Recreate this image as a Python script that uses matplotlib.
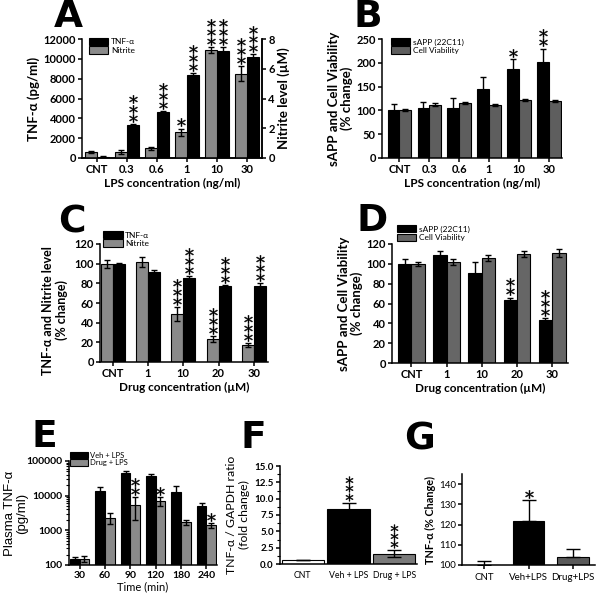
import numpy as np
import matplotlib
matplotlib.use('Agg')
import matplotlib.pyplot as plt
from matplotlib.transforms import ScaledTranslation
from matplotlib.patches import Patch
from matplotlib.ticker import FuncFormatter, AutoMinorLocator, LogLocator, NullFormatter, FixedLocator

plt.rcParams['font.family'] = ['Lato', 'DejaVu Sans']
plt.rcParams['axes.linewidth'] = 1.1

# ---------------- data ----------------
lps_labels = ['CNT', '0.3', '0.6', '1', '10', '30']
a_tnf = [150, 3350, 4600, 8350, 10800, 10150]
a_tnf_err = [40, 100, 150, 200, 380, 350]
a_nitrite = [0.40, 0.43, 0.65, 1.73, 7.23, 5.67]
a_nitrite_err = [0.08, 0.13, 0.08, 0.25, 0.2, 0.5]
a_stars_tnf = [0, 3, 3, 3, 3, 3]
a_stars_nit = [0, 0, 0, 1, 3, 3]

b_sapp = [100, 105, 105, 146, 188, 202]
b_sapp_err = [13, 12, 22, 25, 19, 28]
b_via = [100, 112, 115, 112, 122, 120]
b_via_err = [2, 3, 2, 2, 2, 2]
b_stars_sapp = [0, 0, 0, 0, 1, 2]

drug_labels = ['CNT', '1', '10', '20', '30']
c_nit = [100, 102, 49, 23, 17]
c_nit_err = [4, 5, 7, 3, 2]
c_tnf = [100, 92, 85, 77, 77]
c_tnf_err = [1, 1.5, 2, 1, 3]
c_stars_nit = [0, 0, 3, 3, 3]
c_stars_tnf = [0, 0, 3, 3, 3]

d_sapp = [100, 109, 91, 64, 43]
d_sapp_err = [5, 4, 11, 2, 2]
d_via = [100, 102, 106, 110, 111]
d_via_err = [2, 3, 3, 3, 4]
d_stars_sapp = [0, 0, 0, 2, 3]

e_times = ['30', '60', '90', '120', '180', '240']
e_veh = [145, 13500, 45000, 37000, 12500, 4900]
e_veh_err = [25, 4000, 6000, 6000, 7000, 1400]
e_drug = [150, 2300, 5500, 7000, 1700, 1400]
e_drug_err = [30, 800, 3500, 2000, 300, 200]
e_stars_drug = [0, 0, 2, 1, 0, 1]

f_labels = ['CNT', 'Veh + LPS', 'Drug + LPS']
f_vals = [0.6, 8.4, 1.6]
f_err = [0.05, 1.0, 0.5]
f_stars = [0, 3, 3]

g_labels = ['CNT', 'Veh+LPS', 'Drug+LPS']
g_vals = [100, 122, 104]
g_err = [2, 10, 3.7]
g_stars = [0, 1, 0]

# ---------------- helpers ----------------
W, H = 600, 596
fig = plt.figure(figsize=(6, 5.96), dpi=100)


def px_axes(l, t, r, b):
    return fig.add_axes([l / W, 1 - b / H, (r - l) / W, (b - t) / H])


def style(ax, fs=8, bold=True, right=False):
    ax.spines['top'].set_visible(False)
    ax.spines['right'].set_visible(right)
    ax.tick_params(direction='out', length=3, width=1.1, labelsize=fs, pad=1.5)
    for lab in ax.get_xticklabels() + ax.get_yticklabels():
        lab.set_fontweight('bold' if bold else 'normal')


def stars(ax, x, top, n, size=6, gap=1.5, step=6.5):
    for i in range(n):
        tr = ax.transData + ScaledTranslation(0, (gap + size / 2 + i * step) / 72, fig.dpi_scale_trans)
        ax.plot([x], [top], marker='$*$', ms=size, color='k', transform=tr,
                clip_on=False, linestyle='none', markeredgewidth=0.3)


def legend(ax, colors, labels, anchor, fs=6):
    handles = [Patch(facecolor=c, edgecolor='k', linewidth=0.8) for c in colors]
    ax.legend(handles, labels, loc='upper left', bbox_to_anchor=anchor, frameon=False,
              fontsize=fs, handlelength=2.3, handleheight=1.0, labelspacing=0.1,
              handletextpad=0.3, borderpad=0, borderaxespad=0)


def letter(x, y, s):
    fig.text(x / W, 1 - y / H, s, fontsize=27, fontweight='bold', ha='center', va='center',
             family='DejaVu Sans')


ekw = dict(ecolor='k', elinewidth=1.0, capsize=2.2, capthick=1.0)

# ---------------- Panel A ----------------
ax = px_axes(82, 39, 262, 158)
ax2 = ax.twinx()
x = np.arange(len(lps_labels))
w = 0.39
ax2.bar(x - w / 2, a_nitrite, w, yerr=a_nitrite_err, color='#8a8a8a', edgecolor='k', linewidth=0.8, error_kw=ekw)
ax.bar(x + w / 2, a_tnf, w, yerr=a_tnf_err, color='k', edgecolor='k', linewidth=0.8, error_kw=ekw)
ax.set_xlim(-0.5, 5.5)
ax.set_ylim(0, 12000)
ax2.set_ylim(0, 8)
ax.set_yticks([0, 2000, 4000, 6000, 8000, 10000, 12000])
ax2.set_yticks([0, 2, 4, 6, 8])
ax.set_xticks(x)
ax.set_xticklabels(lps_labels)
style(ax, right=True)
style(ax2, right=True)
ax2.spines['left'].set_visible(False)
for i in range(len(x)):
    stars(ax, x[i] + w / 2, a_tnf[i] + a_tnf_err[i], a_stars_tnf[i])
    stars(ax2, x[i] - w / 2, a_nitrite[i] + a_nitrite_err[i], a_stars_nit[i])
ax.set_ylabel('TNF-α (pg/ml)', fontsize=9.5, fontweight='bold', labelpad=2)
ax2.set_ylabel('Nitrite level (µM)', fontsize=9.5, fontweight='bold', labelpad=2)
ax.set_xlabel('LPS concentration (ng/ml)', fontsize=8.5, fontweight='bold', labelpad=2)
legend(ax2, ['k', '#8a8a8a'], ['TNF-α', 'Nitrite'], (0.04, 1.01))
letter(68, 17, 'A')

# ---------------- Panel B ----------------
ax = px_axes(382, 39, 562, 158)
x = np.arange(len(lps_labels))
w = 0.39
ax.bar(x - w / 2, b_sapp, w, yerr=b_sapp_err, color='k', edgecolor='k', linewidth=0.8, error_kw=ekw)
ax.bar(x + w / 2, b_via, w, yerr=b_via_err, color='#5e5e5e', edgecolor='k', linewidth=0.8, error_kw=ekw)
ax.set_xlim(-0.58, 5.44)
ax.set_ylim(0, 250)
ax.set_yticks([0, 50, 100, 150, 200, 250])
ax.set_xticks(x)
ax.set_xticklabels(lps_labels)
style(ax)
for i in range(len(x)):
    stars(ax, x[i] - w / 2, b_sapp[i] + b_sapp_err[i], b_stars_sapp[i])
ax.set_ylabel('sAPP and Cell Viability\n(% change)', fontsize=9.5, fontweight='bold', labelpad=2,
              linespacing=1.1)
ax.set_xlabel('LPS concentration (ng/ml)', fontsize=8.5, fontweight='bold', labelpad=2)
legend(ax, ['k', '#5e5e5e'], ['sAPP (22C11)', 'Cell Viability'], (0.05, 1.01))
letter(368, 17, 'B')

# ---------------- Panel C ----------------
ax = px_axes(100, 244, 268, 362)
x = np.arange(len(drug_labels))
w = 0.34
ax.bar(x - w / 2, c_nit, w, yerr=c_nit_err, color='#8a8a8a', edgecolor='k', linewidth=0.8, error_kw=ekw)
ax.bar(x + w / 2, c_tnf, w, yerr=c_tnf_err, color='k', edgecolor='k', linewidth=0.8, error_kw=ekw)
ax.set_xlim(-0.36, 4.4)
ax.set_ylim(0, 120)
ax.set_yticks([0, 20, 40, 60, 80, 100, 120])
ax.set_xticks(x)
ax.set_xticklabels(drug_labels)
style(ax)
for i in range(len(x)):
    stars(ax, x[i] - w / 2, c_nit[i] + c_nit_err[i], c_stars_nit[i])
    stars(ax, x[i] + w / 2, c_tnf[i] + c_tnf_err[i], c_stars_tnf[i])
ax.set_ylabel('TNF-α and Nitrite level\n(% change)', fontsize=9, fontweight='bold', labelpad=2,
              linespacing=1.1)
ax.yaxis.set_label_coords(-0.19, 0.44)
ax.set_xlabel('Drug concentration (µM)', fontsize=8.5, fontweight='bold', labelpad=2)
legend(ax, ['k', '#8a8a8a'], ['TNF-α', 'Nitrite'], (0.02, 1.11))
letter(72, 222, 'C')

# ---------------- Panel D ----------------
ax = px_axes(392, 244, 568, 363)
x = np.arange(len(drug_labels))
w = 0.38
ax.bar(x - w / 2, d_sapp, w, yerr=d_sapp_err, color='k', edgecolor='k', linewidth=0.8, error_kw=ekw)
ax.bar(x + w / 2, d_via, w, yerr=d_via_err, color='#666666', edgecolor='k', linewidth=0.8, error_kw=ekw)
ax.set_xlim(-0.55, 4.45)
ax.set_ylim(0, 120)
ax.set_yticks([0, 20, 40, 60, 80, 100, 120])
ax.set_xticks(x)
ax.set_xticklabels(drug_labels)
style(ax)
for i in range(len(x)):
    stars(ax, x[i] - w / 2, d_sapp[i] + d_sapp_err[i], d_stars_sapp[i])
ax.set_ylabel('sAPP and Cell Viability\n(% change)', fontsize=9.5, fontweight='bold', labelpad=2,
              linespacing=1.1)
ax.set_xlabel('Drug concentration (µM)', fontsize=8.5, fontweight='bold', labelpad=2)
legend(ax, ['k', '#666666'], ['sAPP (22C11)', 'Cell Viability'], (0.03, 1.16))
letter(372, 221, 'D')

# ---------------- Panel E ----------------
ax = px_axes(69, 461, 217, 565)
x = np.arange(len(e_times))
w = 0.38
ax.bar(x - w / 2, e_veh, w, yerr=e_veh_err, color='k', edgecolor='k', linewidth=0.8, error_kw=ekw)
ax.bar(x + w / 2, e_drug, w, yerr=e_drug_err, color='#8a8a8a', edgecolor='k', linewidth=0.8, error_kw=ekw)
ax.set_yscale('log')
ax.set_ylim(100, 100000)
ax.set_xlim(-0.42, 5.42)
ax.yaxis.set_major_locator(FixedLocator([100, 1000, 10000, 100000]))
ax.yaxis.set_major_formatter(FuncFormatter(lambda v, p: '%d' % v))
ax.yaxis.set_minor_locator(LogLocator(base=10, subs=np.arange(2, 10)))
ax.yaxis.set_minor_formatter(NullFormatter())
ax.set_xticks(x)
ax.set_xticklabels(e_times)
style(ax, fs=7.5)
ax.tick_params(axis='y', which='minor', length=2, width=0.8)
for i in range(len(x)):
    stars(ax, x[i] + w / 2, e_drug[i] + e_drug_err[i], e_stars_drug[i])
ax.set_ylabel('Plasma TNF-α\n(pg/ml)', fontsize=9.5, linespacing=1.05,
              family=['Liberation Sans', 'DejaVu Sans'])
ax.yaxis.set_label_coords(-0.275, 0.5)
ax.set_xlabel('Time (min)', fontsize=8, labelpad=1)
legend(ax, ['k', '#8a8a8a'], ['Veh + LPS', 'Drug + LPS'], (0.01, 1.09), fs=5.5)
letter(44, 437, 'E')

# ---------------- Panel F ----------------
ax = px_axes(280, 466, 417, 564)
x = np.arange(len(f_labels))
ax.bar(x, f_vals, 0.92, yerr=f_err, color=['white', 'k', '#7a7a7a'], edgecolor='k', linewidth=0.8,
       error_kw=dict(ecolor='k', elinewidth=1.0, capsize=5, capthick=1.0))
ax.set_xlim(-0.5, 2.5)
ax.set_ylim(0, 15)
ax.set_yticks([0, 2.5, 5, 7.5, 10, 12.5, 15])
ax.yaxis.set_major_formatter(FuncFormatter(lambda v, p: '%.1f' % v))
ax.yaxis.set_minor_locator(AutoMinorLocator(2))
ax.set_xticks(x)
ax.set_xticklabels(f_labels)
style(ax, fs=7)
for lab in ax.get_xticklabels():
    lab.set_fontsize(6.3)
    lab.set_fontweight('normal')
ax.tick_params(axis='x', length=0, pad=5)
ax.tick_params(axis='y', which='minor', length=2, width=0.8)
for i in range(len(x)):
    stars(ax, x[i], f_vals[i] + f_err[i], f_stars[i], size=5.5, step=6)
ax.set_ylabel('TNF-α / GAPDH ratio\n(fold change)', fontsize=8.8, labelpad=3, linespacing=1.2)
letter(253, 438, 'F')

# ---------------- Panel G ----------------
ax = px_axes(462, 474, 595, 565)
x = np.arange(len(g_labels))
g_err_lo = [0] * len(g_err)
ax.bar(x, g_vals, 0.72, yerr=[g_err_lo, g_err], color=['white', 'k', '#5a5a5a'], edgecolor='k', linewidth=0.8,
       error_kw=dict(ecolor='k', elinewidth=1.0, capsize=5, capthick=1.0))
ax.set_xlim(-0.5, 2.5)
ax.set_ylim(100, 145)
ax.set_yticks([100, 110, 120, 130, 140])
ax.set_xticks(x)
ax.set_xticklabels(g_labels)
style(ax, fs=7, bold=False)
ax.tick_params(axis='x', length=3, pad=3)
for i in range(len(x)):
    stars(ax, x[i], g_vals[i] + g_err[i], g_stars[i], size=6)
ax.set_ylabel('TNF-α (% Change)', fontsize=7.8, fontweight='bold', labelpad=2)
letter(420, 440, 'G')

fig.savefig('out.png', dpi=100)
